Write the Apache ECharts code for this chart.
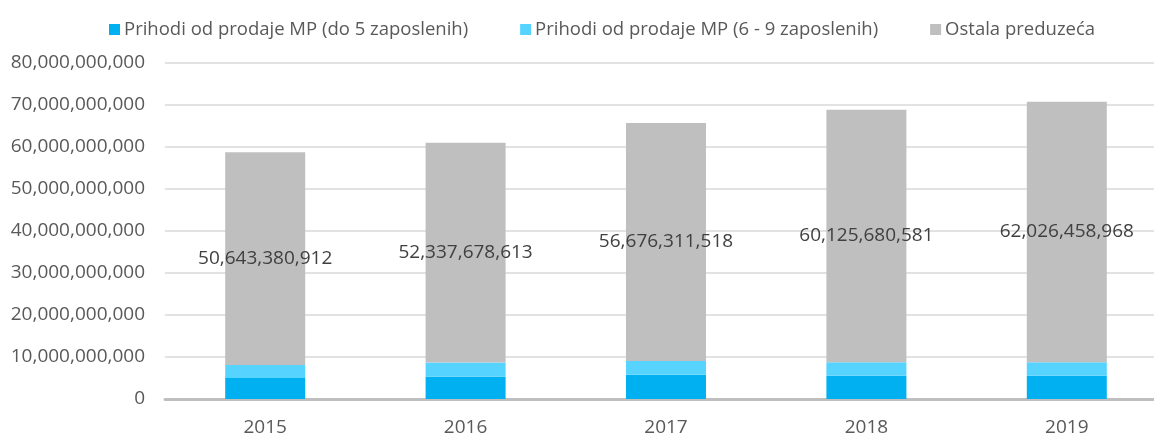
<!DOCTYPE html>
<html>
<head>
<meta charset="utf-8">
<script src="https://cdn.jsdelivr.net/npm/echarts@6/dist/echarts.min.js"></script>
<style>
  html, body { margin: 0; padding: 0; background: #fff; }
  #main { width: 1154px; height: 435px; }
</style>
</head>
<body>
<div id="main"></div>
<script>
// godine
var years = ['2015', '2016', '2017', '2018', '2019'];
// prihodi po grupama (procijenjeno sa slike, osim ostalih)
var mpDo5 = [5000000000, 5300000000, 5800000000, 5550000000, 5550000000];
var mp6do9 = [3100000000, 3400000000, 3250000000, 3200000000, 3200000000];
var ostala = [50643380912, 52337678613, 56676311518, 60125680581, 62026458968];

var fontFam = '"Open Sans", "Noto Sans", sans-serif';
var fmt = function (v) { return Number(v).toLocaleString('en-US'); };

var chart = echarts.init(document.getElementById('main'));
chart.setOption({
  animation: false,
  textStyle: { fontFamily: fontFam },
  legend: {
    top: 15,
    left: 104,
    itemWidth: 11,
    itemHeight: 11,
    itemGap: 52,
    icon: 'rect',
    textStyle: { fontSize: 18.5, color: '#595959', fontFamily: fontFam, padding: [0, 0, 0, -1] },
    data: ['Prihodi od prodaje MP (do 5 zaposlenih)', 'Prihodi od prodaje MP (6 - 9 zaposlenih)', 'Ostala preduzeća']
  },
  // plot je desno odsjecen kao u originalu
  grid: { left: 165, width: 1002, top: 63, bottom: 36, outerBoundsMode: 'none', containLabel: false },
  xAxis: {
    type: 'category',
    data: years,
    axisTick: { show: false },
    axisLine: { lineStyle: { color: '#bfbfbf', width: 3 } },
    axisLabel: { fontSize: 19, color: '#595959', margin: 19, fontFamily: fontFam }
  },
  yAxis: {
    type: 'value',
    min: 0,
    max: 80000000000,
    interval: 10000000000,
    axisLine: { show: false },
    axisTick: { show: false },
    splitLine: { lineStyle: { color: '#d9d9d9', width: 1.5 } },
    axisLabel: { fontSize: 19, color: '#595959', margin: 20, formatter: fmt, fontFamily: fontFam }
  },
  series: [
    {
      name: 'Prihodi od prodaje MP (do 5 zaposlenih)',
      type: 'bar',
      stack: 'ukupno',
      barWidth: 80,
      itemStyle: { color: '#00b0f0' },
      data: mpDo5
    },
    {
      name: 'Prihodi od prodaje MP (6 - 9 zaposlenih)',
      type: 'bar',
      stack: 'ukupno',
      itemStyle: { color: '#57d3ff' },
      data: mp6do9
    },
    {
      name: 'Ostala preduzeća',
      type: 'bar',
      stack: 'ukupno',
      itemStyle: { color: '#bfbfbf' },
      label: {
        show: true,
        position: 'inside',
        fontSize: 19,
        color: '#404040',
        fontFamily: fontFam,
        formatter: function (p) { return fmt(p.value); }
      },
      data: ostala
    }
  ]
});
</script>
</body>
</html>
